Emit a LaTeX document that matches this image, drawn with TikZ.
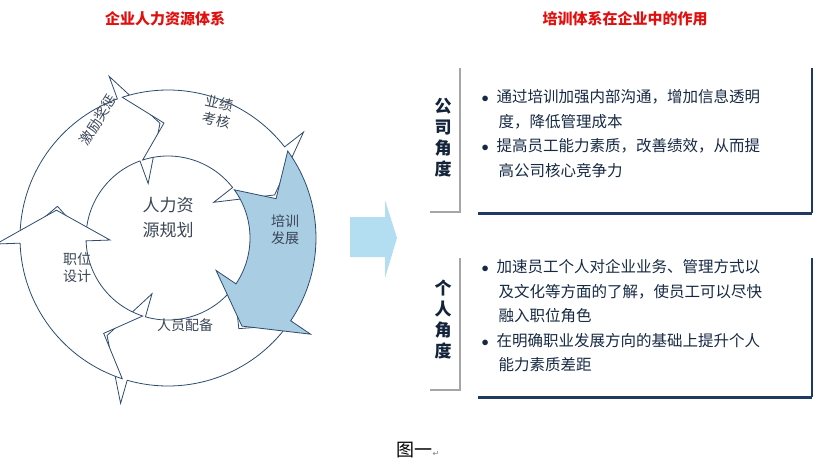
\documentclass[tikz,border=0pt]{standalone}
\usepackage{fontspec}
\setmainfont{Noto Sans CJK SC}
\newfontfamily\dv{DejaVu Sans}
\definecolor{edge}{HTML}{2E4B6E}
\definecolor{txt}{HTML}{3A4656}
\definecolor{blu}{HTML}{A9CDE3}
\definecolor{navy}{HTML}{1F3A60}
\definecolor{ttl}{HTML}{E0100F}
\definecolor{arw}{HTML}{B3DDF0}
\begin{document}
\begin{tikzpicture}[x=1pt,y=-1pt,
  seg/.style={draw=edge,line width=0.8pt,fill=white},
  lab/.style={text=txt,font=\fontsize{14}{17}\selectfont,align=center},
  title/.style={text=ttl,font=\bfseries\fontsize{15}{18}\selectfont},
  body/.style={text=navy!70!black,font=\fontsize{15.5}{24.5}\selectfont,align=left,anchor=north west,text width=300pt},
  side/.style={text=navy!60!black,font=\bfseries\fontsize{17}{21}\selectfont,align=center,text width=18pt},
  brk/.style={draw=gray!70,line width=1.2pt},
  boxr/.style={draw=navy,line width=1.2pt},
  boxb/.style={draw=navy,line width=3pt}]
\useasboundingbox (0,0) rectangle (826,469);
\node[title] (t1) at (165,19) {企业人力资源体系};
\node[title] (t2) at (625,19) {培训体系在企业中的作用};
% cycle
\begin{scope}[shift={(168,238)},y=1pt]
\def\Ro{148}\def\Ri{82}\def\Rm{115}\def\Wo{172}\def\Wi{58}\def\d{16}
\foreach \a/\b/\f in {182/110/white,110/38/white,-34/-106/white,-106/-178/white,38/-34/blu}{
  \pgfmathsetmacro\ta{\a-2}
  \pgfmathsetmacro\tn{\a-2-\d}
  \pgfmathsetmacro\tip{\b-\d}
  \draw[seg,fill=\f] (\ta:\Ro) arc[start angle=\ta,end angle=\b,radius=\Ro]
    -- (\b:\Wo) -- (\tip:\Rm) -- (\b:\Wi) -- (\b:\Ri)
    arc[start angle=\b,end angle=\ta,radius=\Ri] -- (\tn:\Rm) -- cycle;
}
\node[lab,rotate=58] (n1) at (-70,118) {激励奖惩};
\node[lab,rotate=-12] (n2) at (50,126) {业绩\\考核};
\end{scope}
\node[lab] (n3) at (285,230) {培训\\发展};
\node[lab] (n4) at (185,325) {人员配备};
\node[lab] (n5) at (77,268) {职位\\设计};
\node[lab,font=\fontsize{17}{25}\selectfont] (c) at (168,218) {人力资\\源规划};
% big arrow
\fill[arw] (350,217) -- (385,217) -- (385,200) -- (397,238) -- (385,278) -- (385,257) -- (350,257) -- cycle;
% right side
\draw[brk] (460,68) -- (460,212) -- (430,212);
\node[side] (s1) at (443,138) {公\\司\\角\\度};
\draw[boxr] (812,68) -- (812,213);
\draw[boxb] (478,213) -- (812,213);
\node[body] (b1) at (478,86) {$\bullet$\hspace{8pt}通过培训加强内部沟通，增加信息透明\\\hspace{17pt}度，降低管理成本\\$\bullet$\hspace{8pt}提高员工能力素质，改善绩效，从而提\\\hspace{17pt}高公司核心竞争力};
\draw[brk] (460,258) -- (460,390) -- (430,390);
\node[side] (s2) at (443,320) {个\\人\\角\\度};
\draw[boxr] (812,258) -- (812,397);
\draw[boxb] (478,397) -- (812,397);
\node[body] (b2) at (478,256) {$\bullet$\hspace{8pt}加速员工个人对企业业务、管理方式以\\\hspace{17pt}及文化等方面的了解，使员工可以尽快\\\hspace{17pt}融入职位角色\\$\bullet$\hspace{8pt}在明确职业发展方向的基础上提升个人\\\hspace{17pt}能力素质差距};
\node[font=\fontsize{18}{20}\selectfont] (cap) at (418,450) {图一{\dv\fontsize{8}{9}\selectfont\color{gray}↵}};
\end{tikzpicture}
\end{document}
